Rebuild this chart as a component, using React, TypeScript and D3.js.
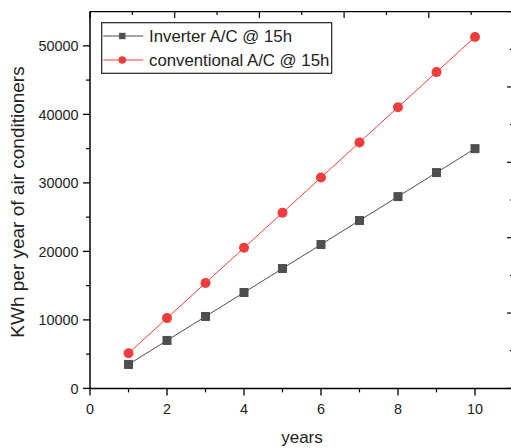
import React from "react";
import * as d3 from "d3";

const years = [1, 2, 3, 4, 5, 6, 7, 8, 9, 10];
const inverter = [3500, 7000, 10500, 14000, 17500, 21000, 24500, 28000, 31500, 35000];
const conventional = [5130, 10260, 15390, 20520, 25650, 30780, 35910, 41040, 46170, 51300];
const xTicks = [0, 2, 4, 6, 8, 10];
const xMinor = [1, 3, 5, 7, 9];
const yTicks = [0, 10000, 20000, 30000, 40000, 50000];
const yMinor = [5000, 15000, 25000, 35000, 45000];
const seriesNames = ["Inverter A/C @ 15h", "conventional A/C @ 15h"];

const W = 511, H = 448;
const L = 90, R = 513.5, T = 11.6, B = 388.4;
const FONT = "Liberation Sans, Arial, sans-serif";
const GRAY = "#4f4f4f";
const RED = "#f03c3c";

export default function App() {
  const x = d3.scaleLinear().domain([0, 11]).range([L, R]);
  const y = d3.scaleLinear().domain([0, 55000]).range([B, T]);
  const topS = d3.scaleLinear().domain([0, 5]).range([L, R]);
  const rightS = d3.scaleLinear().domain([0, 5]).range([B, T]);
  const line = d3.line<number>().x((_, i) => x(years[i])).y((d) => y(d));
  const div = d3.range(0, 5.01, 0.5);

  return (
    <svg width={W} height={H} style={{ position: "absolute", left: 0, top: 0, background: "#fff" }} fontFamily={FONT}>
      {/* frame */}
      <line x1={L} x2={R} y1={B} y2={B} stroke="#000" strokeWidth={1.5} />
      <line x1={L} x2={L} y1={T} y2={B} stroke="#000" strokeWidth={1.5} />
      <line x1={L} x2={R} y1={T} y2={T} stroke="#000" strokeWidth={1.2} />
      <line x1={R} x2={R} y1={T} y2={B} stroke="#000" strokeWidth={1.2} />
      {/* top & right ticks (inward) */}
      {div.map((d, i) => (
        <g key={"tr" + i}>
          <line x1={topS(d)} x2={topS(d)} y1={T} y2={T + (i % 2 === 0 ? 6.5 : 3.5)} stroke="#000" strokeWidth={1.2} />
          <line x1={R} x2={R - (i % 2 === 0 ? 6.5 : 3.5)} y1={rightS(d)} y2={rightS(d)} stroke="#000" strokeWidth={1.2} />
        </g>
      ))}
      {/* bottom axis */}
      {xTicks.map((t) => (
        <g key={"x" + t}>
          <line x1={x(t)} x2={x(t)} y1={B} y2={B + 7} stroke="#000" strokeWidth={1.3} />
          <text x={x(t)} y={414} fontSize={14.4} textAnchor="middle" fill="#222">{t}</text>
        </g>
      ))}
      {xMinor.map((t) => (
        <line key={"xm" + t} x1={x(t)} x2={x(t)} y1={B} y2={B + 4} stroke="#000" strokeWidth={1.2} />
      ))}
      {/* left axis */}
      {yTicks.map((t) => (
        <g key={"y" + t}>
          <line x1={L - 7} x2={L} y1={y(t)} y2={y(t)} stroke="#000" strokeWidth={1.3} />
          <text x={78.5} y={y(t) + 5.2} fontSize={14.4} textAnchor="end" fill="#222">{t}</text>
        </g>
      ))}
      {yMinor.map((t) => (
        <line key={"ym" + t} x1={L - 4} x2={L} y1={y(t)} y2={y(t)} stroke="#000" strokeWidth={1.2} />
      ))}
      {/* titles */}
      <text x={302} y={443} fontSize={17} textAnchor="middle" fill="#222">years</text>
      <text transform={`translate(24,202) rotate(-90)`} fontSize={19} textAnchor="middle" fill="#222">KWh per year of air conditioners</text>
      {/* series */}
      <path d={line(inverter) || ""} fill="none" stroke={GRAY} strokeWidth={1} />
      <path d={line(conventional) || ""} fill="none" stroke={RED} strokeWidth={1} />
      {inverter.map((v, i) => (
        <rect key={"s" + i} x={x(years[i]) - 4.5} y={y(v) - 4.5} width={9} height={9} fill={GRAY} />
      ))}
      {conventional.map((v, i) => (
        <circle key={"c" + i} cx={x(years[i])} cy={y(v)} r={5} fill={RED} />
      ))}
      {/* legend */}
      <rect x={101.7} y={22.7} width={230} height={50.6} fill="#fff" stroke="#222" strokeWidth={1.2} />
      <line x1={103.3} x2={143.3} y1={36} y2={36} stroke={GRAY} strokeWidth={1} />
      <rect x={122.3 - 3.2} y={36 - 3.2} width={6.4} height={6.4} fill={GRAY} />
      <text x={149} y={42} fontSize={16.8} fill="#222">{seriesNames[0]}</text>
      <line x1={103.3} x2={143.3} y1={60} y2={60} stroke={RED} strokeWidth={1} />
      <circle cx={122.3} cy={60} r={3.8} fill={RED} />
      <text x={149} y={66} fontSize={16.8} fill="#222">{seriesNames[1]}</text>
    </svg>
  );
}
